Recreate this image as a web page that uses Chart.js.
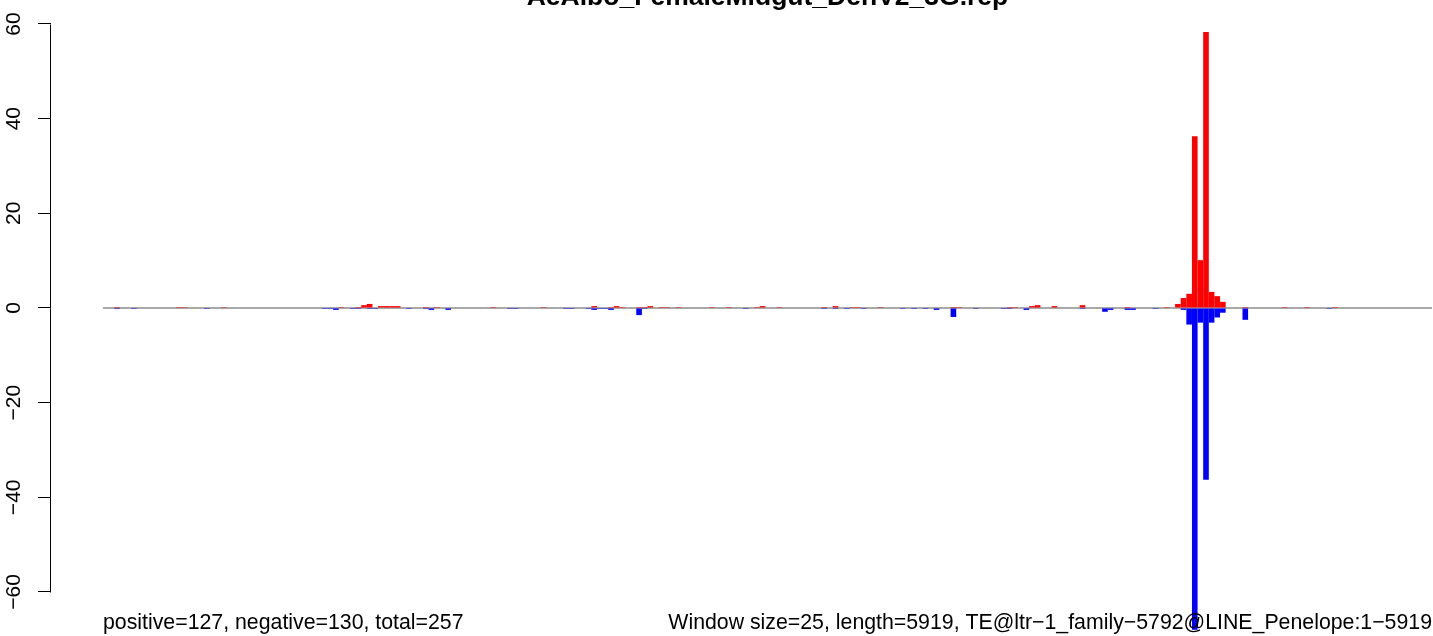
<!DOCTYPE html>
<html><head><meta charset="utf-8">
<script src="https://cdn.jsdelivr.net/npm/chart.js@4"></script>
<style>html,body{margin:0;padding:0;background:#fff;overflow:hidden}#wrap{width:1433px;height:636px;position:relative}canvas{display:block}</style>
</head><body><div id="wrap"><canvas id="c" width="1433" height="636"></canvas></div>
<script>
const titleText = "AeAlbo_FemaleMidgut_DenV2_3G.rep";
const leftNote = "positive=127, negative=130, total=257";
const rightNote = "Window size=25, length=5919, TE@ltr\u22121_family\u22125792@LINE_Penelope:1\u22125919";
const windowSize = 25;
const seqLength = 5919;
const yTicks = [-60, -40, -20, 0, 20, 40, 60];

// window index -> value (sense / positive strand, red)
const posWindows = [2,13,14,21,42,45,46,47,49,50,51,52,57,59,69,78,87,90,91,92,95,96,97,99,100,102,108,111,116,117,120,128,130,133,134,138,151,152,161,162,165,166,169,174,182,189,191,192,193,194,195,196,197,198,199,203,210,214,219];
const posValues  = [0.2,0.2,0.2,0.2,0.2,0.2,0.6,0.85,0.4,0.4,0.4,0.4,0.2,0.2,0.2,0.2,0.4,0.2,0.4,0.2,0.2,0.2,0.4,0.2,0.2,0.2,0.2,0.2,0.2,0.4,0.2,0.2,0.4,0.2,0.2,0.2,0.2,0.2,0.2,0.2,0.4,0.6,0.4,0.6,0.2,0.2,0.85,2.1,3.0,36.3,10.1,58.3,3.4,2.5,1.3,0.2,0.2,0.2,0.2];
// window index -> value (antisense / negative strand, blue)
const negWindows = [2,5,18,39,40,41,44,45,47,48,54,57,58,61,72,73,82,83,86,87,88,89,90,95,96,114,128,130,132,135,142,144,146,148,151,155,160,161,164,174,178,179,182,183,187,192,193,194,195,196,197,198,199,203,218];
const negValues  = [-0.2,-0.2,-0.2,-0.2,-0.2,-0.4,-0.2,-0.2,-0.2,-0.2,-0.2,-0.2,-0.4,-0.4,-0.2,-0.2,-0.2,-0.2,-0.2,-0.4,-0.2,-0.2,-0.4,-1.5,-0.2,-0.2,-0.2,-0.2,-0.2,-0.2,-0.2,-0.2,-0.2,-0.4,-1.9,-0.2,-0.2,-0.2,-0.4,-0.2,-0.8,-0.4,-0.4,-0.4,-0.2,-0.4,-3.5,-68,-3.1,-36.3,-3.1,-2.0,-1.0,-2.5,-0.2];

const nWin = Math.ceil(seqLength / windowSize);
function buildSeries(idx, vals) {
  const arr = [];
  for (let i = 0; i < nWin; i++) arr.push({x: i * windowSize + windowSize / 2, y: 0});
  idx.forEach((w, k) => { arr[w].y = vals[k]; });
  return arr;
}
const posData = buildSeries(posWindows, posValues);
const negData = buildSeries(negWindows, negValues);

const FONT = '"Liberation Sans", Arial, Helvetica, sans-serif';

const decor = {
  id: 'decor',
  afterDraw(chart) {
    const ctx = chart.ctx;
    const xs = chart.scales.x, ys = chart.scales.y;
    ctx.save();
    // y axis line from first to last tick
    ctx.strokeStyle = '#000';
    ctx.lineWidth = 1;
    const ax = Math.round(ys.right) - 0.5;
    ctx.beginPath();
    ctx.moveTo(ax, Math.round(ys.getPixelForValue(yTicks[yTicks.length - 1])) + 0.5);
    ctx.lineTo(ax, Math.round(ys.getPixelForValue(yTicks[0])) + 0.5);
    ctx.stroke();
    ctx.fillStyle = '#000';
    // title
    ctx.font = 'bold 26.5px ' + FONT;
    ctx.textAlign = 'center';
    ctx.textBaseline = 'alphabetic';
    ctx.fillText(titleText, xs.getPixelForValue(seqLength / 2), 5);
    // notes
    ctx.font = '21.3px ' + FONT;
    ctx.textAlign = 'left';
    ctx.fillText(leftNote, xs.getPixelForValue(0), 629);
    ctx.textAlign = 'right';
    ctx.fillText(rightNote, xs.getPixelForValue(seqLength), 629);
    ctx.restore();
  }
};

new Chart(document.getElementById('c'), {
  data: {
    datasets: [
      {type: 'bar', data: posData, backgroundColor: '#FF0000', borderWidth: 0, inflateAmount: 0, grouped: false,
       barPercentage: 1, categoryPercentage: 1, order: 1},
      {type: 'bar', data: negData, backgroundColor: '#0000FF', borderWidth: 0, inflateAmount: 0, grouped: false,
       barPercentage: 1, categoryPercentage: 1, order: 1},
      {type: 'line', data: [{x: 0, y: 0}, {x: seqLength, y: 0}], borderColor: '#A9A9A9', borderWidth: 2,
       pointRadius: 0, fill: false, order: 5}
    ]
  },
  options: {
    responsive: false,
    animation: false,
    devicePixelRatio: 1,
    layout: {padding: 0},
    plugins: {legend: {display: false}, tooltip: {enabled: false}, title: {display: false}},
    scales: {
      x: {type: 'linear', display: false, min: -231.6, max: 5923.5, offset: false},
      y: {
        type: 'linear', min: -69.3, max: 65.07,
        afterBuildTicks: s => { s.ticks = yTicks.map(v => ({value: v})); },
        afterFit: s => { s.width = 51; s.paddingTop = 0; s.paddingBottom = 0; },
        border: {display: false},
        grid: {drawOnChartArea: false, drawTicks: true, tickLength: 13, color: '#000', lineWidth: 1},
        ticks: {
          minRotation: 90, maxRotation: 90, crossAlign: 'center', padding: 6,
          color: '#000', font: {family: FONT, size: 21},
          callback: v => (v < 0 ? '\u2212' + Math.abs(v) : String(v))
        }
      }
    }
  },
  plugins: [decor]
});
</script>
</body></html>
